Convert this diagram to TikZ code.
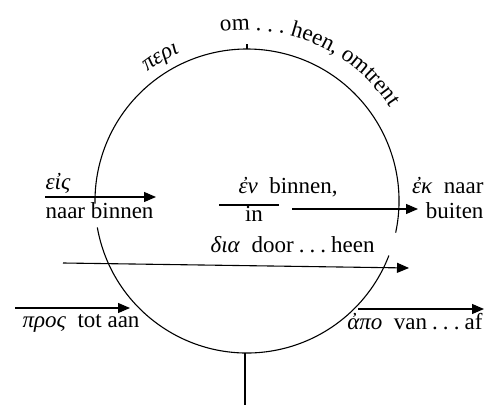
\documentclass[tikz,border=0pt]{standalone}
\usepackage{fontspec}
\setmainfont{Liberation Serif}
\usetikzlibrary{arrows.meta,decorations.text}
\newcommand{\gsp}{\hspace{0.5em}}
\newcommand{\dts}{\hspace{0.22em}.\hspace{0.22em}.\hspace{0.22em}.\hspace{0.22em}}
\begin{document}
\begin{tikzpicture}[x=0.5pt,y=0.5pt, line width=0.55pt,
  lbl/.style={inner sep=0pt, font=\fontsize{11.5}{13}\selectfont},
  arr/.style={-{Triangle[length=6pt,width=5pt]}, line width=0.55pt},
  plain/.style={line width=0.55pt}]
\useasboundingbox (0,0) rectangle (485,-405);
\coordinate (C) at (247,-201);
% circle with two gaps
\draw[plain] (C) ++(-12:152) arc[start angle=-12,end angle=181,radius=152];
\draw[plain] (C) ++(190:152) arc[start angle=190,end angle=339,radius=152];
% ticks
\coordinate (top) at (247,-49);
\coordinate (topt) at (247,-44);
\draw[plain] (top) -- (topt);
\coordinate (bot) at (245,-353);
\coordinate (botend) at (245,-405);
\draw[plain] (bot) -- (botend);
% curved labels
\path[decorate, decoration={text along path, text align=center,
  text={|\fontsize{11.5}{13}\selectfont|om . . . heen, omtrent}}]
  (C) ++(99:171) arc[start angle=99,end angle=33,radius=171];
\path[decorate, decoration={text along path, text align=center,
  text={|\fontsize{11.5}{13}\selectfont\itshape|περι}}]
  (C) ++(131:163) arc[start angle=131,end angle=111,radius=163];
% labels
\node[lbl, anchor=base west] (eis) at (45,-190) {\textit{εἰς}};
\node[lbl, anchor=base west] (naarbinnen) at (45,-219) {naar binnen};
\node[lbl, anchor=base west] (en) at (238,-193) {\textit{ἐν}\gsp binnen,};
\node[lbl, anchor=base] (in) at (254,-221) {in};
\node[lbl, anchor=base east] (ek) at (484,-193) {\textit{ἐκ}\gsp naar};
\node[lbl, anchor=base east] (buiten) at (484,-219) {buiten};
\node[lbl, anchor=base west] (dia) at (210,-252) {\textit{δια}\gsp door\dts heen};
\node[lbl, anchor=base west] (pros) at (22,-327) {\textit{πρoς}\gsp tot aan};
\node[lbl, anchor=base east] (apo) at (483,-329) {\textit{ἀπο}\gsp van\dts af};
% arrows
\coordinate (eisA) at (45,-197);
\coordinate (eisB) at (156,-197);
\draw[arr] (eisA) -- (eisB);
\coordinate (enA) at (219,-205);
\coordinate (enB) at (279,-205);
\draw[plain] (enA) -- (enB);
\coordinate (enC) at (292,-209);
\coordinate (enD) at (418,-209);
\draw[arr] (enC) -- (enD);
\coordinate (diaA) at (63,-263);
\coordinate (diaB) at (409,-268);
\draw[arr] (diaA) -- (diaB);
\coordinate (prosA) at (15,-308);
\coordinate (prosB) at (130,-308);
\draw[arr] (prosA) -- (prosB);
\coordinate (apoA) at (358,-309);
\coordinate (apoB) at (484,-309);
\draw[arr] (apoA) -- (apoB);
\end{tikzpicture}
\end{document}
